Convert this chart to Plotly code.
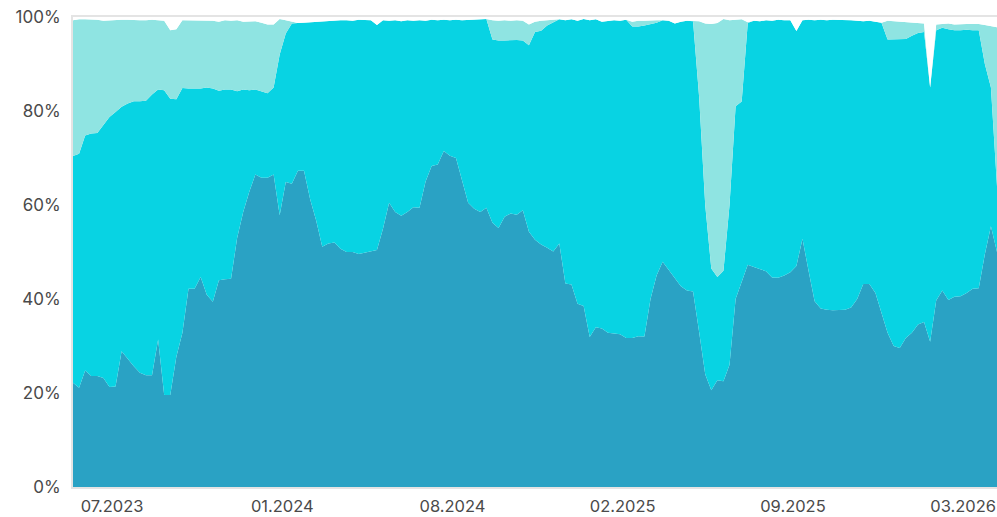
import pandas as pd
import plotly.graph_objects as go

# weekly observations
dates = pd.date_range("2023-05-29", periods=153, freq="7D")

dark = [22.2, 21.1, 24.8, 23.6, 23.6, 23.2, 21.3, 21.4, 28.9, 27.2,
        25.7, 24.3, 23.8, 23.8, 31.4, 19.6, 19.6, 27.7, 32.8, 42.2,
        42.2, 44.7, 40.9, 39.4, 44.0, 44.2, 44.3, 53.0, 58.5, 62.8,
        66.5, 65.8, 65.8, 66.5, 57.8, 64.9, 64.5, 67.3, 67.3, 61.3,
        56.7, 51.1, 51.8, 52.0, 50.7, 50.0, 50.0, 49.6, 49.9, 50.2,
        50.4, 55.0, 60.5, 58.5, 57.7, 58.5, 59.5, 59.4, 65.0, 68.3,
        68.6, 71.5, 70.5, 70.0, 65.5, 60.5, 59.2, 58.5, 59.4, 56.2,
        55.1, 57.5, 58.2, 57.9, 58.9, 54.3, 52.6, 51.6, 50.9, 50.1,
        51.8, 43.3, 43.1, 39.0, 38.5, 31.9, 34.0, 33.7, 32.8, 32.7,
        32.5, 31.7, 31.7, 32.1, 32.0, 40.0, 45.0, 47.9, 46.2, 44.3,
        42.7, 41.8, 41.6, 33.0, 24.0, 20.6, 22.7, 22.5, 26.0, 40.0,
        43.5, 47.3, 46.8, 46.4, 45.9, 44.6, 44.5, 45.0, 45.7, 47.0,
        52.8, 46.0, 39.5, 38.0, 37.7, 37.6, 37.7, 37.7, 38.2, 40.0,
        43.2, 43.2, 41.3, 37.3, 32.8, 30.0, 29.6, 31.7, 32.8, 34.6,
        35.1, 30.9, 39.7, 41.8, 39.8, 40.5, 40.6, 41.3, 42.2, 42.3,
        49.5, 55.5, 50.0]

cyan = [48.2, 49.8, 50.0, 51.6, 51.7, 53.9, 57.4, 58.4, 52.0, 54.4,
        56.4, 57.8, 58.4, 59.7, 53.2, 64.8, 63.0, 54.8, 52.1, 42.6,
        42.6, 40.1, 44.1, 45.4, 40.3, 40.4, 40.3, 31.2, 26.1, 21.6,
        18.1, 18.4, 18.0, 18.5, 34.2, 31.6, 34.1, 31.4, 31.5, 37.6,
        42.3, 48.0, 47.3, 47.2, 48.6, 49.3, 49.2, 49.8, 49.5, 49.1,
        47.9, 44.3, 38.7, 40.8, 41.4, 40.8, 39.7, 39.9, 34.2, 31.1,
        30.7, 27.9, 28.8, 29.4, 33.8, 38.9, 40.3, 41.0, 40.2, 39.0,
        39.9, 37.5, 36.9, 37.2, 36.1, 39.7, 44.2, 45.5, 47.3, 48.8,
        47.7, 56.0, 56.4, 60.2, 61.1, 67.4, 65.5, 65.3, 66.4, 66.6,
        66.7, 67.7, 66.3, 65.9, 66.2, 58.5, 53.8, 51.4, 53.0, 54.3,
        56.3, 57.4, 57.5, 50.0, 36.0, 25.9, 22.0, 23.5, 34.0, 41.0,
        38.5, 51.4, 52.4, 52.7, 53.4, 54.6, 54.9, 54.3, 53.6, 50.0,
        46.5, 53.4, 59.8, 61.4, 61.6, 61.8, 61.7, 61.6, 61.1, 59.2,
        55.9, 56.0, 57.7, 61.5, 62.4, 65.2, 65.6, 63.6, 63.2, 62.0,
        61.7, 54.1, 57.5, 55.9, 57.6, 56.7, 56.6, 56.0, 55.0, 54.9,
        40.5, 29.5, 14.0]

light = [28.9, 28.6, 24.7, 24.3, 24.1, 22.1, 20.6, 19.5, 18.5, 17.8,
         17.2, 17.2, 17.1, 15.9, 14.7, 14.8, 14.6, 14.9, 14.4, 14.5,
         14.4, 14.5, 14.3, 14.4, 14.7, 14.7, 14.6, 15.1, 14.4, 14.7,
         14.5, 14.6, 14.6, 13.4, 7.6, 2.8, 0.4, 0.0, 0.0, 0.0,
         0.0, 0.0, 0.0, 0.0, 0.0, 0.0, 0.0, 0.0, 0.0, 0.0,
         0.0, 0.0, 0.0, 0.0, 0.0, 0.0, 0.0, 0.0, 0.0, 0.0,
         0.0, 0.0, 0.0, 0.0, 0.0, 0.0, 0.0, 0.0, 0.0, 4.1,
         4.2, 4.3, 4.1, 4.2, 4.2, 4.4, 2.2, 2.1, 1.1, 0.5,
         0.0, 0.0, 0.0, 0.0, 0.0, 0.0, 0.0, 0.0, 0.0, 0.0,
         0.0, 0.0, 1.0, 1.2, 1.0, 0.8, 0.5, 0.0, 0.0, 0.0,
         0.0, 0.0, 0.0, 16.1, 38.6, 52.0, 54.0, 53.6, 39.3, 18.4,
         17.5, 0.2, 0.0, 0.0, 0.0, 0.0, 0.0, 0.0, 0.0, 0.0,
         0.0, 0.0, 0.0, 0.0, 0.0, 0.0, 0.0, 0.0, 0.0, 0.0,
         0.0, 0.0, 0.0, 0.0, 4.0, 3.9, 3.8, 3.5, 2.8, 2.1,
         1.8, 0.0, 1.2, 0.8, 1.2, 1.2, 1.3, 1.2, 1.3, 1.3,
         8.3, 13.1, 33.8]

other = [0.7, 0.5, 0.5, 0.5, 0.6, 0.8, 0.7, 0.7, 0.6, 0.6,
         0.7, 0.7, 0.7, 0.6, 0.7, 0.8, 2.8, 2.6, 0.7, 0.7,
         0.8, 0.7, 0.7, 0.8, 1.0, 0.7, 0.8, 0.7, 1.0, 0.9,
         0.9, 1.2, 1.6, 1.6, 0.4, 0.7, 1.0, 1.3, 1.2, 1.1,
         1.0, 0.9, 0.9, 0.8, 0.7, 0.7, 0.8, 0.6, 0.6, 0.7,
         1.7, 0.7, 0.8, 0.7, 0.9, 0.7, 0.8, 0.7, 0.8, 0.6,
         0.7, 0.6, 0.7, 0.6, 0.7, 0.6, 0.5, 0.5, 0.4, 0.7,
         0.8, 0.7, 0.8, 0.7, 0.8, 1.6, 1.0, 0.8, 0.7, 0.6,
         0.5, 0.7, 0.5, 0.8, 0.4, 0.7, 0.5, 1.0, 0.8, 0.7,
         0.8, 0.6, 1.0, 0.8, 0.8, 0.7, 0.7, 0.7, 0.8, 1.4,
         1.0, 0.8, 0.9, 0.9, 1.4, 1.5, 1.3, 0.4, 0.7, 0.6,
         0.5, 1.1, 0.8, 0.9, 0.7, 0.8, 0.6, 0.7, 0.7, 3.0,
         0.7, 0.6, 0.7, 0.6, 0.7, 0.6, 0.6, 0.7, 0.7, 0.8,
         0.9, 0.8, 1.0, 1.2, 0.8, 0.9, 1.0, 1.2, 1.2, 1.3,
         1.4, 15.0, 1.6, 1.5, 1.4, 1.6, 1.5, 1.5, 1.5, 1.5,
         1.7, 1.9, 2.2]

series = [
    ("Dark", dark, "#2AA2C4"),
    ("Cyan", cyan, "#08D3E3"),
    ("Light", light, "#8FE4E2"),
    ("Other", other, "#FFFFFF"),
]

tick_idx = [7, 35, 63, 91, 119, 147]
# label anchors placed a few days before the labelled week
tick_dates = [dates[i] - pd.Timedelta(days=4) for i in tick_idx]
y_ticks = [0, 20, 40, 60, 80, 100]
y_labels = ["0%", "20%", "40%", "60%", "80%", "100%"]

fig = go.Figure()
for name, vals, col in series:
    fig.add_trace(go.Scatter(
        x=dates, y=vals, name=name, mode="lines",
        stackgroup="one", groupnorm="percent",
        line=dict(width=0, color=col), fillcolor=col,
        showlegend=False,
    ))

font = dict(family="Inter, sans-serif", size=17, color="#4a4a4a")
xfont = dict(family="Inter, sans-serif", size=16.5, color="#4a4a4a")
fig.update_layout(
    width=997, height=517,
    margin=dict(l=73, r=0, t=17, b=30),
    paper_bgcolor="white", plot_bgcolor="white",
    font=font,
    xaxis=dict(
        range=[dates[0], dates[-1]],
        tickvals=tick_dates, tickformat="%m.%Y",
        showgrid=False, zeroline=False, automargin=False,
        showline=True, mirror=True, linecolor="#e4e4e4", linewidth=2,
        ticks="", ticklabelstandoff=3, ticklabeloverflow="allow",
        tickfont=xfont,
    ),
    yaxis=dict(
        range=[0, 100], tickvals=y_ticks, ticktext=y_labels,
        showgrid=False, zeroline=False, automargin=False,
        showline=True, mirror=False, linecolor="#e4e4e4", linewidth=2,
        ticks="", ticklabelstandoff=7, tickfont=font,
    ),
)

fig.write_html("out.html", config={"displayModeBar": False},
               post_script="document.body.style.margin='0';document.body.style.overflow='hidden';")
